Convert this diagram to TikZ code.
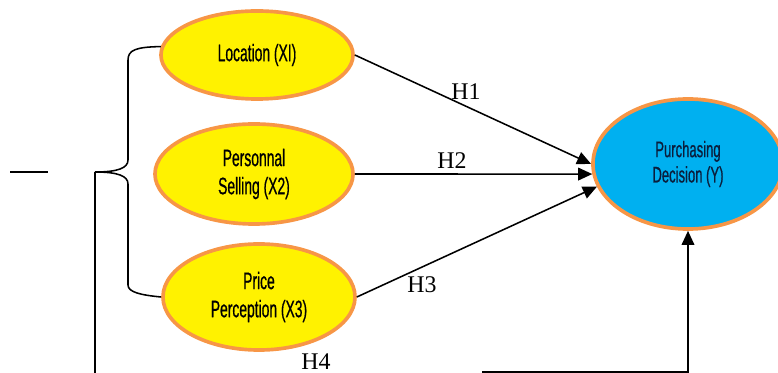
\documentclass[tikz,border=0pt]{standalone}
\usepackage{fontspec}
\setmainfont{Liberation Serif}
\newfontfamily\narrowfont[FakeStretch=0.58, FakeBold=0.6]{Liberation Sans}
\usetikzlibrary{shapes.geometric,arrows.meta}
\definecolor{rim}{RGB}{247,150,70}
\definecolor{sky}{RGB}{0,176,240}
\definecolor{navy}{RGB}{10,30,60}

\begin{document}
\begin{tikzpicture}[x=0.025cm, y=-0.025cm,
		var/.style={draw=rim, line width=2.6pt, ellipse, fill=yellow, inner sep=0pt, align=center,
			font=\narrowfont\fontsize{17}{20}\selectfont},
		hyp/.style={font=\fontsize{17}{17}\selectfont},
		line/.style={line width=1.1pt},
		arr/.style={line width=1.1pt, -{Triangle[length=10pt,width=9pt]}}]

				\useasboundingbox (0,0) rectangle (778,373);

				\node [var, minimum width=4.8cm, minimum height=2.2cm] (loc) at (257, 55) {Location (XI)};
				\node [var, minimum width=4.95cm, minimum height=2.5cm] (pers) at (254, 174) {Personnal\\Selling (X2)};
				\node [var, minimum width=4.8cm, minimum height=2.65cm] (price) at (259, 297) {Price\\Perception (X3)};
				\node [var, fill=sky, text=navy, minimum width=4.75cm, minimum height=3.25cm,
					font=\narrowfont\fontsize{16}{18}\selectfont] (dec) at (688, 164) {Purchasing\\Decision (Y)};

				%------
				\coordinate (tip) at (95, 172);
				\coordinate (s1) at (10, 172);
				\coordinate (s2) at (48, 172);
				\coordinate (bot) at (95, 375);
				\coordinate (h4a) at (482, 372);

				\draw [line] (s1) -- (s2);
				\draw [line] (loc.175) .. controls (136, 47) and (128, 50) .. (128, 60) -- (128, 160)
					.. controls (128, 168) and (118, 172) .. (tip)
					.. controls (118, 172) and (128, 176) .. (128, 184) -- (128, 285)
					.. controls (128, 292) and (140, 295) .. (price.west);
				\draw [line] (tip) -- (bot);

				%------
				\draw [arr] (loc.east) -- (dec.west);
				\draw [arr] (pers.east) -- (dec.186);
				\draw [arr] (price.east) -- (dec.194);
				\draw [arr] (h4a) -| (dec.south);

				\node [hyp] (h1) at (466, 92) {H1};
				\node [hyp] (h2) at (452, 161) {H2};
				\node [hyp] (h3) at (422, 285) {H3};
				\node [hyp] (h4) at (316, 362) {H4};
		\end{tikzpicture}
\end{document}
